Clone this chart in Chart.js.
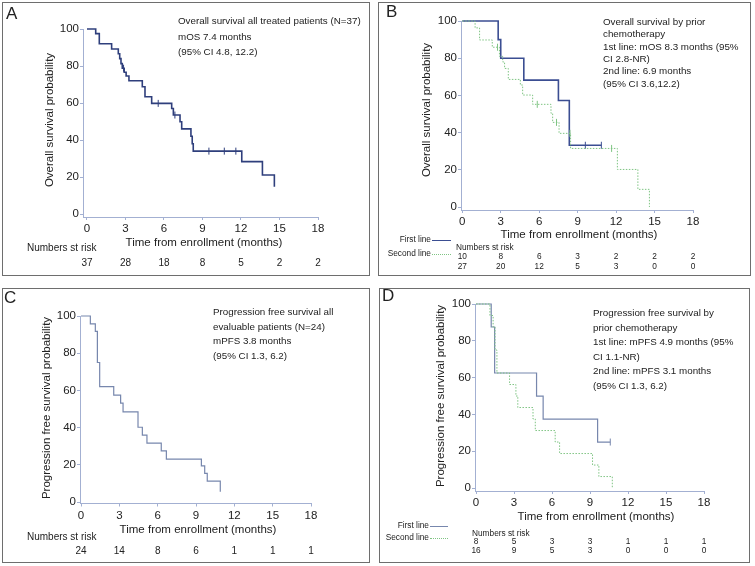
<!DOCTYPE html>
<html>
<head>
<meta charset="utf-8">
<title>Kaplan-Meier survival</title>
<script src="https://cdn.jsdelivr.net/npm/chart.js@4/dist/chart.umd.min.js"></script>
<style>
  html, body { margin: 0; padding: 0; background: #fff; }
  #page { position: relative; width: 755px; height: 566px; overflow: hidden;
          font-family: "Liberation Sans", Arial, Helvetica, sans-serif; color: #222; }
  .panel { position: absolute; border: 1px solid #6e6e6e; box-sizing: border-box; pointer-events: none; }
  .t { position: absolute; white-space: nowrap; line-height: 1; }
</style>
</head>
<body>
<div id="page"></div>
<script>
'use strict';

// ---- shared axes ----
const MONTH_TICKS = [0, 3, 6, 9, 12, 15, 18];
const PROB_TICKS = [0, 20, 40, 60, 80, 100];

// ---- A: overall survival, all treated patients ----
const osAllTime = [0, 0.68, 0.96, 1.92, 2.44, 2.55, 2.65, 2.75, 2.9, 3.05, 3.27, 4.31, 4.52, 5.04, 6.6, 6.73, 7.25, 7.38, 8.1, 8.2, 8.28, 12.06, 13.67, 14.6];
const osAllSurv = [100, 97.5, 92, 89.2, 86.6, 84, 81.3, 78.8, 76.6, 74.6, 72, 68.8, 63.4, 59.8, 57, 53.5, 49.9, 46, 42, 38, 34, 28.3, 21.1, 14.8];
const osAllCensTime = [2.85, 5.55, 6.85, 9.5, 10.7, 11.6];
const osAllCensSurv = [78.8, 59.8, 53.5, 34, 34, 34];
const osAllRisk = [37, 28, 18, 8, 5, 2, 2];

// ---- B: overall survival by prior chemotherapy ----
const osFirstTime = [0, 2.8, 3.0, 4.8, 7.5, 8.35, 10.85];
const osFirstSurv = [100, 90, 80, 68.2, 57.3, 33.2, 33.2];
const osFirstCensTime = [9.6, 10.85];
const osFirstCensSurv = [33.2, 33.2];
const osSecondTime = [0, 1.0, 1.35, 2.34, 2.9, 3.15, 3.3, 3.59, 4.53, 4.71, 5.49, 6.92, 7.05, 7.55, 8.45, 12.1, 13.7, 14.6];
const osSecondSurv = [100, 96.3, 89.8, 85.9, 81, 78, 74.5, 68.6, 65.6, 60.2, 55.2, 50.4, 45.5, 39.6, 31.5, 20.2, 9.5, 0];
const osSecondCensTime = [2.75, 5.85, 7.35, 8.4, 11.65];
const osSecondCensSurv = [85.9, 55.2, 45.5, 39.6, 31.5];
const osFirstRisk = [10, 8, 6, 3, 2, 2, 2];
const osSecondRisk = [27, 20, 12, 5, 3, 0, 0];

// ---- C: progression free survival, all evaluable patients ----
const pfsAllTime = [0, 0.73, 1.12, 1.28, 1.46, 2.56, 3.1, 3.29, 4.46, 4.8, 5.16, 6.28, 6.68, 9.42, 9.68, 9.88, 10.9];
const pfsAllSurv = [100, 95.8, 91.7, 75, 62, 57.5, 53.2, 48.5, 40.2, 36, 31.7, 27.5, 23.1, 19.4, 15.4, 11.2, 5.5];
const pfsAllRisk = [24, 14, 8, 6, 1, 1, 1];

// ---- D: progression free survival by prior chemotherapy ----
const pfsFirstTime = [0, 1.2, 1.47, 4.78, 5.3, 9.6, 10.6];
const pfsFirstSurv = [100, 87.5, 62.5, 50, 37.5, 25, 25];
const pfsFirstCensTime = [10.6];
const pfsFirstCensSurv = [25];
const pfsSecondTime = [0, 1.1, 1.35, 1.5, 1.65, 2.65, 3.15, 3.3, 4.5, 4.68, 6.25, 6.6, 9.2, 9.7, 10.76];
const pfsSecondSurv = [100, 93.75, 87.5, 75, 62.5, 56.25, 50, 43.75, 37.5, 31.25, 25, 18.75, 12.5, 6.25, 0];
const pfsFirstRisk = [8, 5, 3, 3, 1, 1, 1];
const pfsSecondRisk = [16, 9, 5, 3, 0, 0, 0];

(function () {
  const FONT = '"Liberation Sans", Arial, Helvetica, sans-serif';
  const AXIS = '#a3b0d2';
  const INK = '#222';
  const NAVY = '#2f3f7c';
  const BLUE = '#3b4e92';
  const GREY_BLUE = '#7787ad';
  const GREEN = '#7fc483';
  const page = document.getElementById('page');
  const Y_W = 40, X_H = 20;

  function text(str, x, y, size, align) {
    const el = document.createElement('div');
    el.className = 't';
    el.textContent = str;
    el.style.left = x + 'px';
    el.style.top = y + 'px';
    el.style.fontSize = size + 'px';
    const tx = align === 'right' ? '-100%' : align === 'center' ? '-50%' : '0';
    el.style.transform = `translate(${tx},-50%)`;
    page.appendChild(el);
    return el;
  }

  function vtext(str, x, y, size) {
    const el = text(str, x, y, size, 'center');
    el.style.transform = 'translate(-50%,-50%) rotate(-90deg)';
  }

  function sample(x1, x2, y, color, dotted) {
    const el = document.createElement('div');
    el.style.cssText = `position:absolute;left:${x1}px;top:${y}px;width:${x2 - x1}px;height:0;` +
      `border-top:1px ${dotted ? 'dotted' : 'solid'} ${color};`;
    page.appendChild(el);
  }

  function lines(arr, x, y0, lh, size) {
    arr.forEach((s, i) => text(s, x, y0 + i * lh, size, 'left'));
  }

  function curve(ts, ps, color, width, dotted) {
    return {
      type: 'line',
      data: ts.map((t, i) => ({ x: t, y: ps[i] })),
      borderColor: color,
      borderWidth: width,
      borderDash: dotted ? [1.5, 1.5] : [],
      stepped: 'before',
      pointRadius: 0,
      fill: false,
      clip: 6
    };
  }

  function censors(ts, ps, color) {
    return {
      type: 'scatter',
      data: ts.map((t, i) => ({ x: t, y: ps[i] })),
      pointStyle: 'line',
      rotation: 90,
      pointRadius: 3.5,
      borderColor: color,
      borderWidth: 1,
      showLine: false,
      clip: 6
    };
  }

  // numbers at risk, placed under the month ticks through the x scale
  function atRisk(rows, size, boxY) {
    return {
      id: 'atRisk',
      afterDraw(chart) {
        const ctx = chart.ctx, xs = chart.scales.x;
        ctx.save();
        ctx.fillStyle = INK;
        ctx.font = `${size}px ${FONT}`;
        ctx.textAlign = 'center';
        ctx.textBaseline = 'middle';
        rows.forEach(row => {
          row.values.forEach((v, i) => {
            ctx.fillText(String(v), xs.getPixelForValue(MONTH_TICKS[i]), row.y - boxY);
          });
        });
        ctx.restore();
      }
    };
  }

  function makePanel(p) {
    const c = document.createElement('canvas');
    c.width = p.box.w;
    c.height = p.box.h;
    c.style.cssText = `position:absolute;left:${p.box.x}px;top:${p.box.y}px;width:${p.box.w}px;height:${p.box.h}px;`;
    page.appendChild(c);

    const frame = document.createElement('div');
    frame.className = 'panel';
    frame.style.cssText = `left:${p.box.x}px;top:${p.box.y}px;width:${p.box.w}px;height:${p.box.h}px;`;
    page.appendChild(frame);

    const tickFont = { size: 11.5, family: FONT };

    new Chart(c.getContext('2d'), {
      type: 'line',
      data: { datasets: p.datasets },
      options: {
        responsive: false,
        animation: false,
        devicePixelRatio: 1,
        layout: {
          padding: {
            left: p.area.l - p.box.x - Y_W,
            right: p.box.x + p.box.w - p.area.r,
            top: p.area.t - p.box.y,
            bottom: p.box.y + p.box.h - p.area.b - X_H
          }
        },
        plugins: { legend: { display: false }, tooltip: { enabled: false } },
        scales: {
          x: {
            type: 'linear',
            min: p.xMin,
            max: 18,
            afterBuildTicks: s => { s.ticks = MONTH_TICKS.map(v => ({ value: v })); },
            afterFit: s => { s.height = X_H; },
            grid: { display: true, drawOnChartArea: false, drawTicks: true, tickLength: 3, color: AXIS },
            border: { display: true, color: AXIS, width: 1 },
            ticks: { color: INK, font: tickFont, padding: 2, maxRotation: 0, autoSkip: false }
          },
          y: {
            type: 'linear',
            min: p.yMin,
            max: 100,
            afterBuildTicks: s => { s.ticks = PROB_TICKS.map(v => ({ value: v })); },
            afterFit: s => { s.width = Y_W; },
            grid: { display: true, drawOnChartArea: false, drawTicks: true, tickLength: 3, color: AXIS },
            border: { display: true, color: AXIS, width: 1 },
            ticks: { color: INK, font: tickFont, padding: 1, autoSkip: false }
          }
        }
      },
      plugins: [atRisk(p.risk, p.riskSize, p.box.y)]
    });
  }

  // A
  makePanel({
    box: { x: 2, y: 2, w: 368, h: 274 },
    area: { l: 83, r: 318, t: 29, b: 217 },
    xMin: -0.31, yMin: -1.6,
    datasets: [
      curve(osAllTime, osAllSurv, NAVY, 1.6, false),
      censors(osAllCensTime, osAllCensSurv, NAVY)
    ],
    risk: [{ values: osAllRisk, y: 263 }],
    riskSize: 10
  });
  text('A', 6, 13, 17, 'left');
  lines(['Overall survival all treated patients (N=37)', 'mOS 7.4 months', '(95% CI 4.8, 12.2)'], 178, 21, 15.5, 9.8);
  vtext('Overall survival probability', 50, 120, 11.5);
  text('Time from enrollment (months)', 204, 243, 11.5, 'center');
  text('Numbers st risk', 27, 248, 10, 'left');

  // B
  makePanel({
    box: { x: 378, y: 2, w: 373, h: 274 },
    area: { l: 461, r: 693, t: 21, b: 210 },
    xMin: -0.1, yMin: -1.6,
    datasets: [
      curve(osSecondTime, osSecondSurv, GREEN, 1, true),
      censors(osSecondCensTime, osSecondCensSurv, GREEN),
      curve(osFirstTime, osFirstSurv, BLUE, 1.6, false),
      censors(osFirstCensTime, osFirstCensSurv, BLUE)
    ],
    risk: [{ values: osFirstRisk, y: 257 }, { values: osSecondRisk, y: 267 }],
    riskSize: 8.3
  });
  text('B', 386, 11, 17, 'left');
  lines(['Overall survival by prior', 'chemotherapy', '1st line: mOS 8.3 months (95%',
         'CI 2.8-NR)', '2nd line: 6.9 months', '(95% CI 3.6,12.2)'], 603, 22, 12.3, 9.8);
  vtext('Overall survival probability', 427, 110, 11.5);
  text('Time from enrollment (months)', 579, 235, 11.5, 'center');
  text('First line', 431, 239, 8.3, 'right');
  sample(432, 451, 240, BLUE, false);
  text('Second line', 431, 253, 8.3, 'right');
  sample(432, 451, 254, GREEN, true);
  text('Numbers st risk', 456, 247, 8.3, 'left');

  // C
  makePanel({
    box: { x: 2, y: 288, w: 368, h: 275 },
    area: { l: 80, r: 311, t: 316, b: 503.5 },
    xMin: -0.08, yMin: -0.8,
    datasets: [curve(pfsAllTime, pfsAllSurv, GREY_BLUE, 1.2, false)],
    risk: [{ values: pfsAllRisk, y: 551 }],
    riskSize: 10
  });
  text('C', 4, 297, 17, 'left');
  lines(['Progression free survival all', 'evaluable patients (N=24)', 'mPFS 3.8 months', '(95% CI 1.3, 6.2)'], 213, 312, 14.7, 9.8);
  vtext('Progression free survival probability', 47, 408, 11.5);
  text('Time from enrollment (months)', 198, 530, 11.5, 'center');
  text('Numbers st risk', 27, 537, 10, 'left');

  // D
  makePanel({
    box: { x: 379, y: 288, w: 371, h: 275 },
    area: { l: 475, r: 704, t: 304, b: 491 },
    xMin: -0.08, yMin: -1.6,
    datasets: [
      curve(pfsSecondTime, pfsSecondSurv, GREEN, 1, true),
      curve(pfsFirstTime, pfsFirstSurv, GREY_BLUE, 1.2, false),
      censors(pfsFirstCensTime, pfsFirstCensSurv, GREY_BLUE)
    ],
    risk: [{ values: pfsFirstRisk, y: 542 }, { values: pfsSecondRisk, y: 551 }],
    riskSize: 8.3
  });
  text('D', 382, 295, 17, 'left');
  lines(['Progression free survival by', 'prior chemotherapy', '1st line: mPFS 4.9 months (95%',
         'CI 1.1-NR)', '2nd line: mPFS 3.1 months', '(95% CI 1.3, 6.2)'], 593, 313, 14.6, 9.8);
  vtext('Progression free survival probability', 441, 396, 11.5);
  text('Time from enrollment (months)', 596, 517, 11.5, 'center');
  text('First line', 429, 525, 8.3, 'right');
  sample(430, 448, 526, GREY_BLUE, false);
  text('Second line', 429, 537, 8.3, 'right');
  sample(430, 448, 538, GREEN, true);
  text('Numbers st risk', 472, 533, 8.3, 'left');
})();
</script>
</body>
</html>
